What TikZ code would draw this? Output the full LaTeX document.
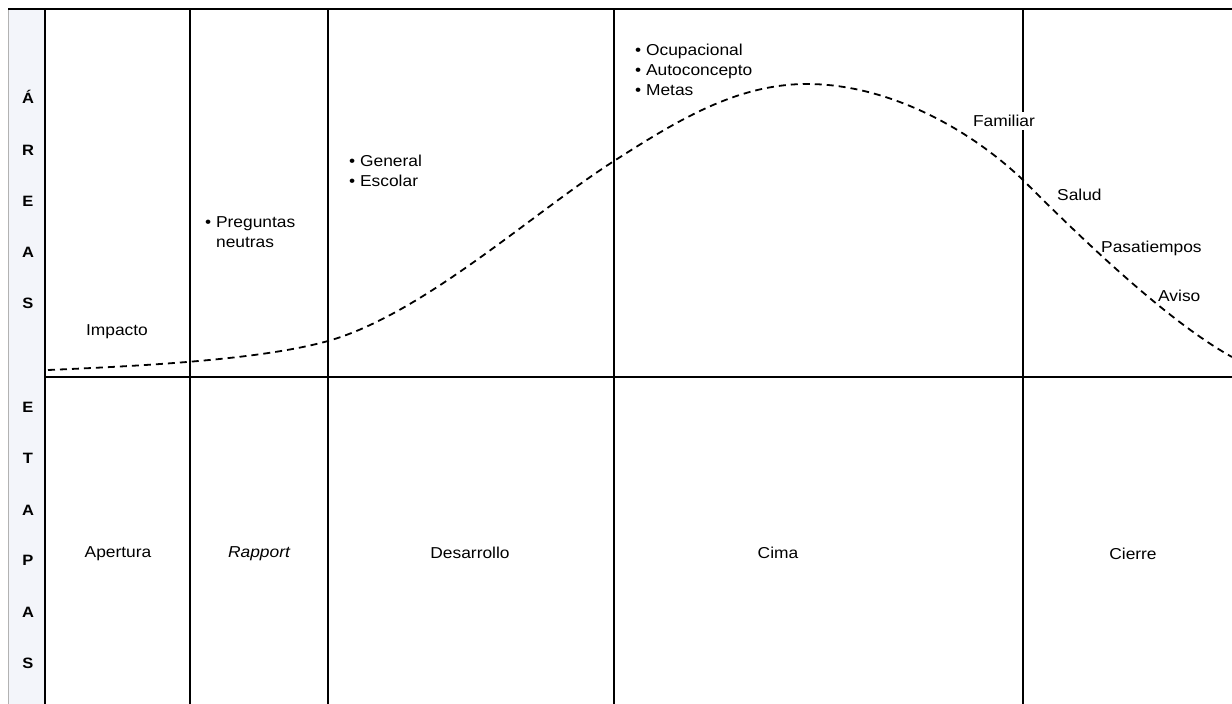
\documentclass[tikz,border=0pt]{standalone}
\usepackage{fontspec}
\setmainfont[FakeStretch=1.1]{Liberation Sans}
\definecolor{stripfill}{RGB}{243,245,250}
\begin{document}
\begin{tikzpicture}[x=1pt,y=-1pt,
  grid/.style={line width=2.4pt},
  lbl/.style={font=\fontsize{15.8}{20}\selectfont, inner sep=0pt, align=left},
  side/.style={font=\bfseries\fontsize{15}{17}\selectfont, inner sep=0pt},
  curve/.style={line width=1.8pt, dash pattern=on 7pt off 5pt}]
\useasboundingbox (0,0) rectangle (1232,704);
% side strip with the two headings
\fill[stripfill] (8,9) rectangle (45,704);
\draw[gray!60, line width=0.8pt] (8,9) -- (8,704);
% table rules
\draw[grid] (8,9) -- (1232,9);
\foreach \x in {45,190,328,614,1023}
  \draw[grid] (\x,9) -- (\x,704);
\draw[grid] (45,377) -- (1232,377);
% vertical headings
\foreach \c/\y [count=\i] in {Á/97,R/150,E/201,A/252,S/303}
  \node[side] (ar\i) at (28,\y) {\c};
\foreach \c/\y [count=\i] in {E/407,T/458,A/510,P/560,A/612,S/663}
  \node[side] (et\i) at (28,\y) {\c};
% intensity curve
\draw[curve] (48,370)
  .. controls (140,366) and (260,360) .. (328,341)
  .. controls (423,314) and (530,215) .. (614,161)
  .. controls (678,120) and (737,84) .. (807,84)
  .. controls (882,84) and (963,123) .. (1023,180)
  .. controls (1075,232) and (1165,320) .. (1232,357);
% areas
\node[lbl] (impacto) at (117,332) {Impacto};
\node[lbl, anchor=north west] (preg) at (205,216) {• Preguntas\\\hphantom{• }neutras};
\node[lbl, anchor=north west] (gen) at (349,155) {• General\\• Escolar};
\node[lbl, anchor=north west] (ocu) at (635,44) {• Ocupacional\\• Autoconcepto\\• Metas};
\node[lbl, fill=white, inner sep=3pt] (familiar) at (1004,121) {Familiar};
\node[lbl, anchor=west] (salud) at (1057,195) {Salud};
\node[lbl, anchor=west] (pasa) at (1101,248) {Pasatiempos};
\node[lbl, anchor=west] (aviso) at (1158,296) {Aviso};
% stages
\node[lbl] (apertura) at (118,554) {Apertura};
\node[lbl] (rapport) at (259,554) {\itshape Rapport};
\node[lbl] (desarrollo) at (470,553) {Desarrollo};
\node[lbl] (cima) at (778,553) {Cima};
\node[lbl] (cierre) at (1133,554) {Cierre};
\end{tikzpicture}
\end{document}
